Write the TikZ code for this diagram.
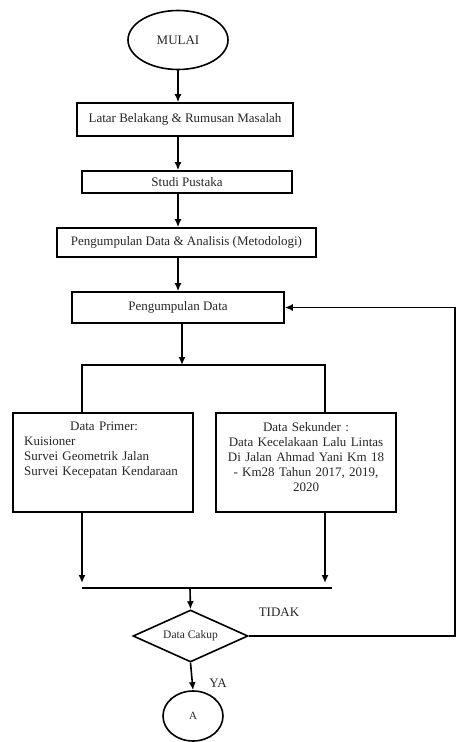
\documentclass[tikz,border=0pt]{standalone}
\usepackage{fontspec}
\setmainfont{Liberation Serif}
\usetikzlibrary{shapes.geometric,arrows.meta,calc}
\begin{document}
\begin{tikzpicture}[x=1pt,y=-1pt,
  every node/.style={font=\fontsize{13}{15}\selectfont, text=black!85},
  box/.style={draw, line width=1.6pt, rectangle, inner sep=0pt},
  txt/.style={inner sep=0pt},
  conn/.style={line width=1.6pt},
  arr/.style={line width=1.6pt, -{Latex[length=8pt,width=7pt]}}
]
\useasboundingbox (0,0) rectangle (457,742);
% nodes
\node[draw, ellipse, line width=1.6pt, minimum width=100pt, minimum height=59pt, inner sep=0pt] (mulai) at (178,40) {MULAI};
\node[box, minimum width=216pt, minimum height=33pt] (latar) at (185,119.5) {Latar Belakang \& Rumusan Masalah};
\node[box, minimum width=210pt, minimum height=22pt] (studi) at (187,182) {Studi Pustaka};
\node[box, minimum width=259pt, minimum height=29pt] (peng1) at (186.5,242.5) {Pengumpulan Data \& Analisis (Metodologi)};
\node[box, minimum width=212pt, minimum height=31pt] (peng2) at (178,307.5) {Pengumpulan Data};
\node[box, minimum width=180pt, minimum height=99pt] (primer) at (103,462.5) {};
\node[box, minimum width=180pt, minimum height=99pt] (sekunder) at (306,462.5) {};
\node[txt, anchor=north west, text width=172pt, align=left] (primertxt) at (24,422)
  {\hspace*{46pt}Data Primer:\\Kuisioner\\Survei Geometrik Jalan\\Survei Kecepatan Kendaraan};
\node[txt, anchor=north, text width=172pt, align=center] (sekundertxt) at (306,422)
  {Data Sekunder :\\Data Kecelakaan Lalu Lintas\\Di Jalan Ahmad Yani Km 18\\- Km28 Tahun 2017, 2019,\\2020};
\node[draw, diamond, line width=1.6pt, aspect=2.2, minimum width=115pt, minimum height=52pt, inner sep=0pt, font=\fontsize{11.5}{13}\selectfont] (dec) at (190.5,636) {Data Cakup};
\node[draw, ellipse, line width=1.6pt, minimum width=60pt, minimum height=50pt, inner sep=0pt, font=\fontsize{11}{13}\selectfont] (A) at (193,716) {A};
\node[txt] (tidak) at (279,612) {TIDAK};
\node[txt] (ya) at (218,683) {YA};
% junction coordinates
\coordinate (j1) at (182,365);
\coordinate (jl) at (82,365);
\coordinate (jr) at (325,365);
\coordinate (ml) at (82,588);
\coordinate (mr) at (332,588);
\coordinate (mc) at (190,588);
\coordinate (loop) at (455,636);
% connectors
\draw[arr] (mulai.south) -- (mulai.south |- latar.north);
\draw[arr] (mulai.south |- latar.south) -- (mulai.south |- studi.north);
\draw[arr] (mulai.south |- studi.south) -- (mulai.south |- peng1.north);
\draw[arr] (mulai.south |- peng1.south) -- (mulai.south |- peng2.north);
\draw[arr] (j1 |- peng2.south) -- (j1);
\draw[conn] (jl |- primer.north) -- (jl) -- (jr) -- (jr |- sekunder.north);
\draw[arr] (jl |- primer.south) -- ($(ml)+(0,-5)$);
\draw[arr] (jr |- sekunder.south) -- ($(jr |- ml)+(0,-5)$);
\draw[conn] (ml) -- (mr);
\draw[arr] (mc) -- (dec.north);
\draw[arr] (dec.south) -- (A.north);
\draw[arr] (dec.east) -- (loop) -- (loop |- peng2.east) -- (peng2.east);
\end{tikzpicture}
\end{document}
